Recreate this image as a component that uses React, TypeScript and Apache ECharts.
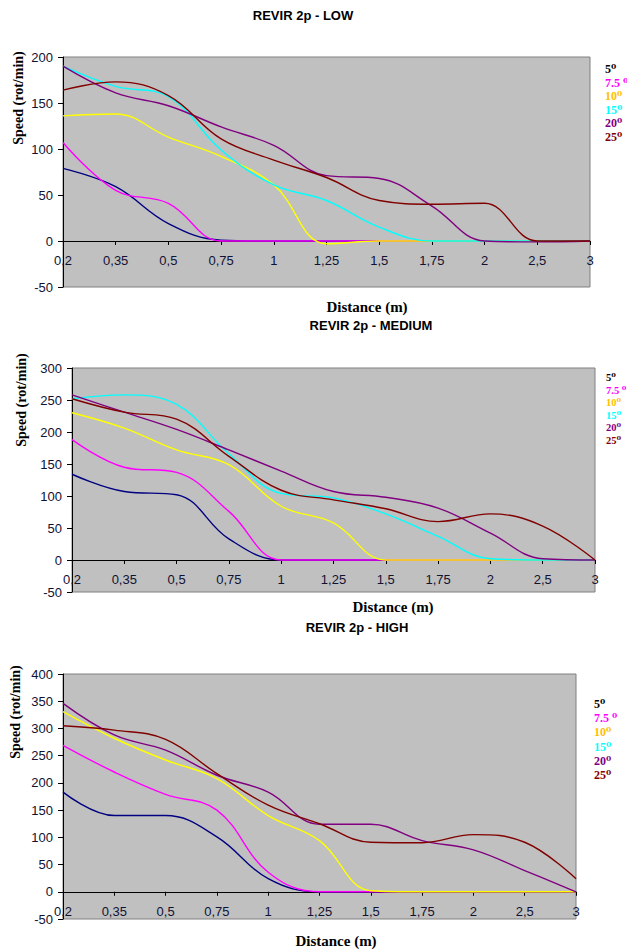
import React, { useEffect, useRef } from "react";
import * as echarts from "echarts";

const categories = ["0,2", "0,35", "0,5", "0,75", "1", "1,25", "1,5", "1,75", "2", "2,5", "3"];
const seriesNames = ["5⁰", "7.5 ⁰", "10⁰", "15⁰", "20⁰", "25⁰"];
const lineColors = ["#000080", "#ff00ff", "#ffff00", "#00ffff", "#800080", "#800000"];
const legendColors = ["#000000", "#ff00ff", "#ffc000", "#00ffff", "#800080", "#800000"];

const titles = ["REVIR 2p - LOW", "REVIR 2p - MEDIUM", "REVIR 2p - HIGH"];
const yMin = -50;
const yMax = [200, 300, 400];

// LOW
const low5 = [79, 59, 19, 1, 0, 0, 0, 0, 0, 0, 0];
const low7_5 = [107, 55, 41, 0, 0, 0, 0, 0, 0, 0, 0];
const low10 = [136, 138, 113, 92, 61, -3, 0, 0, 0, 0, 0];
const low15 = [190, 168, 157, 99, 61, 44, 15, 0, 0, 0, 0];
const low20 = [190, 161, 147, 124, 104, 71, 68, 38, 0, -1, 0];
const low25 = [164, 173, 158, 111, 88, 69, 44, 40, 41, 0, 0];

// MEDIUM
const med5 = [134, 107, 102, 33, 0, 0, 0, 0, 0, 0, 0];
const med7_5 = [188, 145, 137, 76, 0, 0, 0, 0, 0, 0, 0];
const med10 = [230, 206, 172, 149, 84, 58, 0, 0, 0, 0, 0];
const med15 = [252, 258, 243, 166, 104, 97, 72, 37, 2, 0, 0];
const med20 = [258, 231, 204, 172, 139, 107, 98, 81, 42, 2, 0];
const med25 = [252, 231, 220, 162, 109, 94, 80, 60, 72, 53, 0];

// HIGH (15° not visible)
const high5 = [183, 140, 140, 101, 24, 0, 0, 0, 0, 0, 0];
const high7_5 = [269, 220, 179, 150, 36, 0, 0, 0, 0, 0, 0];
const high10 = [331, 282, 242, 208, 140, 94, 2, 0, 0, 0, 0];
const high15: (number | null)[] = [];
const high20 = [346, 288, 260, 214, 183, 124, 124, 94, 77, 39, 0];
const high25 = [305, 297, 280, 217, 159, 125, 91, 90, 105, 91, 24];

const chartData = [
  [low5, low7_5, low10, low15, low20, low25],
  [med5, med7_5, med10, med15, med20, med25],
  [high5, high7_5, high10, high15, high20, high25],
];

// layout (pixels)
const grids = [
  { left: 63, top: 57, right: 590, bottom: 287 },
  { left: 72, top: 368, right: 595, bottom: 592 },
  { left: 63, top: 674, right: 576, bottom: 919 },
];
const titlePos = [
  { x: 303, y: 17 },
  { x: 371, y: 327 },
  { x: 357, y: 629 },
];
const yNamePos = [
  { x: 18, y: 98 },
  { x: 21, y: 400 },
  { x: 15, y: 712 },
];
const xNamePos = [
  { x: 367, y: 307 },
  { x: 393, y: 607 },
  { x: 336, y: 941 },
];
const legendPos = [
  { x: 605, y: 63, gap: 13.6, size: 12 },
  { x: 606, y: 372, gap: 12, size: 10.5 },
  { x: 594, y: 698, gap: 14.2, size: 12 },
];

const W = 627;
const H = 950;
const SERIF = "'Liberation Serif', 'DejaVu Serif', 'Times New Roman', serif";
const SANS = "'Liberation Sans', Arial, sans-serif";

export default function App() {
  const ref = useRef<HTMLDivElement>(null);
  useEffect(() => {
    if (!ref.current) return;
    const chart = echarts.init(ref.current, undefined, { renderer: "svg" });

    const grid = grids.map((g) => ({
      left: g.left,
      top: g.top,
      width: g.right - g.left,
      height: g.bottom - g.top,
      show: true,
      backgroundColor: "#c0c0c0",
      borderColor: "#808080",
      borderWidth: 1,
      containLabel: false,
    }));

    // place the category axis on the zero line of the value axis
    const xAxis = grids.map((g, i) => {
      const h = g.bottom - g.top;
      const zeroOffset = ((0 - yMin) / (yMax[i] - yMin)) * h;
      return {
        type: "category",
        gridIndex: i,
        data: categories,
        boundaryGap: false,
        position: "bottom",
        offset: -zeroOffset,
        axisLine: { onZero: false, lineStyle: { color: "#000", width: 1 } },
        axisTick: { show: true, interval: 0, length: 4, lineStyle: { color: "#000" } },
        axisLabel: { interval: 0, margin: 13, color: "#111133", fontSize: 13, fontFamily: SANS },
        splitLine: { show: false },
      };
    });

    const yAxis = grids.map((_, i) => ({
      type: "value",
      gridIndex: i,
      min: yMin,
      max: yMax[i],
      interval: 50,
      axisLine: { show: true, onZero: false, lineStyle: { color: "#000", width: 1 } },
      axisTick: { show: true, length: 5, lineStyle: { color: "#000" } },
      axisLabel: { margin: 10, color: "#111133", fontSize: 13, fontFamily: SANS },
      splitLine: { show: false },
    }));

    const series: any[] = [];
    chartData.forEach((group, gi) => {
      group.forEach((data, si) => {
        if (!data.length) return;
        series.push({
          type: "line",
          name: seriesNames[si],
          xAxisIndex: gi,
          yAxisIndex: gi,
          data,
          smooth: 0.4,
          symbol: "none",
          lineStyle: { color: lineColors[si], width: 1.4 },
          itemStyle: { color: lineColors[si] },
          z: 2 + si,
        });
      });
    });

    const title = titles.map((t, i) => ({
      text: t,
      left: titlePos[i].x,
      top: titlePos[i].y - 8,
      textAlign: "center",
      padding: 0,
      textStyle: { fontFamily: SANS, fontWeight: "bold", fontSize: 13, color: "#000" },
    }));

    const legend = legendPos.map((p) => ({
      orient: "vertical",
      left: p.x,
      top: p.y,
      icon: "none",
      itemWidth: 0,
      itemHeight: 8,
      itemGap: p.gap - p.size,
      padding: 0,
      selectedMode: false,
      data: seriesNames.map((n, si) => ({
        name: n,
        textStyle: {
          color: legendColors[si],
          fontFamily: SERIF,
          fontWeight: "bold",
          fontSize: p.size,
          lineHeight: p.size,
          padding: [0, 0, 0, -5],
        },
      })),
    }));

    const graphic: any[] = [];
    for (let i = 0; i < 3; i++) {
      graphic.push({
        type: "text",
        x: yNamePos[i].x,
        y: yNamePos[i].y,
        rotation: Math.PI / 2,
        style: {
          text: "Speed (rot/min)",
          fill: "#000",
          font: `bold 14px ${SERIF}`,
          align: "center",
          verticalAlign: "middle",
        },
      });
      graphic.push({
        type: "text",
        x: xNamePos[i].x,
        y: xNamePos[i].y,
        style: {
          text: "Distance (m)",
          fill: "#000",
          font: `bold 15px ${SERIF}`,
          align: "center",
          verticalAlign: "middle",
        },
      });
    }

    chart.setOption({
      animation: false,
      backgroundColor: "#ffffff",
      title,
      legend,
      grid,
      xAxis,
      yAxis,
      series,
      graphic,
    });
    return () => chart.dispose();
  }, []);

  return (
    <div
      ref={ref}
      style={{ position: "absolute", left: 0, top: 0, width: W, height: H }}
    />
  );
}
